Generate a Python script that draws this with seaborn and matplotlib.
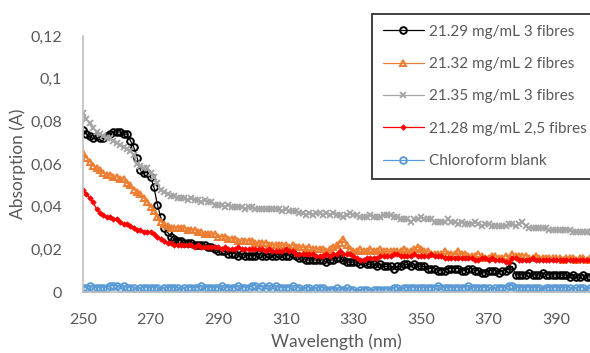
import pandas as pd
import seaborn as sns
import matplotlib.pyplot as plt
from matplotlib.ticker import FuncFormatter

# wavelength axis (nm), 1 nm steps
wavelength = list(range(250, 401))

# absorption values
fib_2129_3 = [
    0.076, 0.074, 0.073, 0.072, 0.073, 0.072, 0.072, 0.073, 0.074, 0.075,
    0.075, 0.075, 0.074, 0.074, 0.071, 0.068, 0.063, 0.057, 0.056, 0.056,
    0.054, 0.049, 0.041, 0.035, 0.030, 0.028, 0.026, 0.025, 0.024, 0.024,
    0.023, 0.023, 0.023, 0.022, 0.022, 0.022, 0.022, 0.021, 0.021, 0.020,
    0.019, 0.019, 0.019, 0.018, 0.018, 0.018, 0.017, 0.018, 0.017, 0.017,
    0.017, 0.017, 0.018, 0.017, 0.017, 0.018, 0.017, 0.017, 0.018, 0.017,
    0.017, 0.017, 0.018, 0.017, 0.016, 0.016, 0.015, 0.015, 0.015, 0.015,
    0.015, 0.015, 0.014, 0.015, 0.015, 0.016, 0.016, 0.015, 0.014, 0.014,
    0.014, 0.014, 0.013, 0.014, 0.013, 0.013, 0.013, 0.012, 0.013, 0.012,
    0.012, 0.012, 0.011, 0.012, 0.012, 0.013, 0.013, 0.012, 0.013, 0.012,
    0.012, 0.012, 0.011, 0.011, 0.011, 0.010, 0.010, 0.010, 0.011, 0.011,
    0.011, 0.011, 0.010, 0.010, 0.011, 0.011, 0.010, 0.010, 0.009, 0.009,
    0.010, 0.010, 0.010, 0.009, 0.010, 0.010, 0.011, 0.012, 0.008, 0.008,
    0.008, 0.008, 0.009, 0.008, 0.008, 0.008, 0.009, 0.008, 0.008, 0.008,
    0.008, 0.008, 0.008, 0.008, 0.007, 0.008, 0.007, 0.007, 0.008, 0.007,
    0.007,
]
fib_2132_2 = [
    0.065, 0.063, 0.061, 0.059, 0.058, 0.057, 0.056, 0.055, 0.055, 0.054,
    0.054, 0.053, 0.053, 0.051, 0.050, 0.048, 0.047, 0.046, 0.044, 0.042,
    0.040, 0.038, 0.035, 0.033, 0.032, 0.031, 0.030, 0.030, 0.030, 0.030,
    0.030, 0.029, 0.029, 0.029, 0.028, 0.028, 0.027, 0.027, 0.027, 0.027,
    0.026, 0.026, 0.026, 0.025, 0.025, 0.025, 0.024, 0.024, 0.024, 0.024,
    0.024, 0.023, 0.023, 0.023, 0.023, 0.022, 0.022, 0.022, 0.022, 0.022,
    0.022, 0.021, 0.022, 0.021, 0.021, 0.021, 0.020, 0.021, 0.020, 0.020,
    0.020, 0.020, 0.019, 0.020, 0.021, 0.022, 0.023, 0.025, 0.022, 0.020,
    0.019, 0.019, 0.020, 0.019, 0.019, 0.020, 0.019, 0.019, 0.020, 0.019,
    0.019, 0.019, 0.019, 0.019, 0.019, 0.020, 0.019, 0.019, 0.020, 0.021,
    0.020, 0.019, 0.019, 0.018, 0.018, 0.018, 0.018, 0.019, 0.018, 0.018,
    0.018, 0.019, 0.018, 0.018, 0.017, 0.017, 0.017, 0.018, 0.017, 0.016,
    0.016, 0.017, 0.017, 0.016, 0.016, 0.017, 0.016, 0.018, 0.017, 0.017,
    0.017, 0.017, 0.016, 0.016, 0.017, 0.016, 0.016, 0.016, 0.016, 0.016,
    0.016, 0.016, 0.015, 0.016, 0.016, 0.016, 0.015, 0.016, 0.016, 0.015,
    0.016,
]
fib_2135_3 = [
    0.084, 0.081, 0.079, 0.077, 0.075, 0.074, 0.073, 0.072, 0.072, 0.071,
    0.070, 0.069, 0.068, 0.067, 0.066, 0.064, 0.060, 0.059, 0.058, 0.058,
    0.056, 0.054, 0.051, 0.048, 0.047, 0.046, 0.045, 0.045, 0.044, 0.044,
    0.044, 0.043, 0.044, 0.043, 0.043, 0.042, 0.043, 0.042, 0.042, 0.041,
    0.041, 0.041, 0.040, 0.041, 0.040, 0.040, 0.040, 0.040, 0.039, 0.040,
    0.040, 0.039, 0.039, 0.039, 0.039, 0.039, 0.039, 0.039, 0.039, 0.038,
    0.039, 0.038, 0.038, 0.038, 0.037, 0.037, 0.036, 0.037, 0.036, 0.037,
    0.037, 0.036, 0.037, 0.036, 0.037, 0.036, 0.036, 0.035, 0.036, 0.037,
    0.036, 0.036, 0.035, 0.035, 0.035, 0.036, 0.035, 0.035, 0.035, 0.036,
    0.036, 0.036, 0.035, 0.035, 0.034, 0.034, 0.034, 0.033, 0.034, 0.034,
    0.035, 0.034, 0.034, 0.034, 0.033, 0.033, 0.033, 0.033, 0.034, 0.033,
    0.033, 0.032, 0.033, 0.032, 0.032, 0.032, 0.033, 0.032, 0.031, 0.032,
    0.032, 0.031, 0.031, 0.031, 0.031, 0.031, 0.032, 0.032, 0.031, 0.032,
    0.033, 0.031, 0.030, 0.030, 0.030, 0.030, 0.030, 0.030, 0.029, 0.029,
    0.029, 0.029, 0.029, 0.029, 0.029, 0.028, 0.028, 0.028, 0.028, 0.028,
    0.028,
]
fib_2128_25 = [
    0.048, 0.046, 0.044, 0.042, 0.039, 0.037, 0.036, 0.035, 0.035, 0.034,
    0.034, 0.033, 0.032, 0.032, 0.031, 0.030, 0.029, 0.029, 0.028, 0.028,
    0.028, 0.027, 0.026, 0.025, 0.024, 0.023, 0.023, 0.022, 0.022, 0.022,
    0.022, 0.022, 0.022, 0.021, 0.022, 0.021, 0.021, 0.021, 0.021, 0.021,
    0.021, 0.020, 0.021, 0.020, 0.020, 0.020, 0.021, 0.020, 0.020, 0.020,
    0.020, 0.020, 0.020, 0.020, 0.019, 0.020, 0.019, 0.019, 0.019, 0.019,
    0.020, 0.019, 0.019, 0.018, 0.018, 0.018, 0.018, 0.018, 0.018, 0.017,
    0.017, 0.017, 0.018, 0.017, 0.018, 0.018, 0.019, 0.018, 0.018, 0.018,
    0.017, 0.016, 0.015, 0.015, 0.016, 0.016, 0.016, 0.016, 0.017, 0.017,
    0.017, 0.017, 0.018, 0.018, 0.017, 0.017, 0.017, 0.017, 0.018, 0.017,
    0.017, 0.017, 0.017, 0.018, 0.017, 0.017, 0.017, 0.016, 0.016, 0.016,
    0.016, 0.016, 0.016, 0.016, 0.016, 0.016, 0.015, 0.015, 0.016, 0.016,
    0.015, 0.016, 0.015, 0.015, 0.015, 0.014, 0.014, 0.016, 0.016, 0.015,
    0.015, 0.015, 0.015, 0.016, 0.015, 0.015, 0.015, 0.015, 0.015, 0.015,
    0.015, 0.015, 0.015, 0.015, 0.015, 0.015, 0.015, 0.015, 0.015, 0.015,
    0.015,
]
blank = [
    0.002, 0.002, 0.003, 0.002, 0.002, 0.002, 0.002, 0.002, 0.003, 0.003,
    0.003, 0.002, 0.003, 0.002, 0.002, 0.002, 0.001, 0.002, 0.002, 0.002,
    0.002, 0.002, 0.002, 0.001, 0.002, 0.002, 0.002, 0.002, 0.002, 0.001,
    0.002, 0.002, 0.002, 0.002, 0.002, 0.003, 0.002, 0.002, 0.002, 0.002,
    0.002, 0.003, 0.002, 0.002, 0.002, 0.002, 0.003, 0.002, 0.002, 0.002,
    0.003, 0.003, 0.002, 0.003, 0.002, 0.003, 0.002, 0.003, 0.002, 0.002,
    0.002, 0.002, 0.003, 0.002, 0.002, 0.001, 0.002, 0.002, 0.001, 0.002,
    0.002, 0.002, 0.001, 0.001, 0.001, 0.002, 0.001, 0.001, 0.002, 0.001,
    0.001, 0.000, 0.001, 0.001, 0.001, 0.000, 0.001, 0.001, 0.001, 0.001,
    0.001, 0.001, 0.002, 0.002, 0.001, 0.002, 0.002, 0.002, 0.002, 0.002,
    0.002, 0.002, 0.002, 0.002, 0.002, 0.003, 0.002, 0.002, 0.002, 0.002,
    0.002, 0.002, 0.002, 0.002, 0.003, 0.002, 0.002, 0.002, 0.002, 0.002,
    0.002, 0.001, 0.002, 0.002, 0.002, 0.002, 0.003, 0.003, 0.002, 0.002,
    0.002, 0.002, 0.002, 0.002, 0.002, 0.002, 0.001, 0.002, 0.002, 0.002,
    0.002, 0.002, 0.002, 0.002, 0.002, 0.001, 0.002, 0.002, 0.002, 0.001,
    0.002,
]

labels = ['21.29 mg/mL 3 fibres', '21.32 mg/mL 2 fibres', '21.35 mg/mL 3 fibres',
          '21.28 mg/mL 2,5 fibres', 'Chloroform blank']
colors = ['#000000', '#ED7D31', '#A5A5A5', '#FF0000', '#5B9BD5']

sns.set_style('white')
plt.rcParams['font.family'] = ['Lato', 'DejaVu Sans']

fig = plt.figure(figsize=(5.9, 3.53), dpi=100)
ax = fig.add_axes([83 / 590, 61 / 353, 1 - 83 / 590, 256 / 353])

series = [fib_2129_3, fib_2132_2, fib_2135_3, fib_2128_25, blank]
# marker style per series (Excel look)
mk = [
    dict(marker='o', markersize=4.8, mfc='none', mec='#000000', mew=1.4, lw=0.9),
    dict(marker='^', markersize=4.8, mfc='none', mec='#ED7D31', mew=1.4, lw=0.9),
    dict(marker='x', markersize=4.4, mec='#A5A5A5', mew=1.4, lw=0.9),
    dict(marker='D', markersize=2.8, mfc='#FF0000', mec='#FF0000', mew=0.5, lw=0.9),
    dict(marker='o', markersize=4.8, mfc='none', mec='#5B9BD5', mew=1.4, lw=0.9),
]
for vals, lab, col, m in zip(series, labels, colors, mk):
    d = pd.DataFrame({'wl': wavelength, 'abs': vals})
    sns.lineplot(data=d, x='wl', y='abs', color=col, label=lab, ax=ax, **m)

ax.set_xlim(250, 400)
ax.set_ylim(0, 0.12)
ax.set_xticks(range(250, 400, 20))
ax.set_yticks([0, 0.02, 0.04, 0.06, 0.08, 0.1, 0.12])
ax.yaxis.set_major_formatter(FuncFormatter(lambda v, p: ('%g' % round(v, 3)).replace('.', ',')))
ax.tick_params(axis='x', length=0, labelsize=11.5, colors='#595959', pad=15)
ax.tick_params(axis='y', length=0, labelsize=11.5, colors='#595959', pad=15)
ax.set_xlabel('Wavelength (nm)', fontsize=12.5, color='#595959', labelpad=5)
ax.set_ylabel('Absorption (A)', fontsize=12.5, color='#595959', labelpad=3)
for s in ['top', 'right']:
    ax.spines[s].set_visible(False)
for s in ['left', 'bottom']:
    ax.spines[s].set_color('#BFBFBF')
    ax.spines[s].set_linewidth(1.2)

h, l = ax.get_legend_handles_labels()
ax.get_legend().remove()
leg = fig.legend(h, l, loc='upper left', bbox_to_anchor=(372 / 590, 1 - 14 / 353),
                 fontsize=11, frameon=True, fancybox=False, edgecolor='black',
                 handlelength=2.7, labelspacing=1.2, borderpad=0.7, handletextpad=0.3,
                 borderaxespad=0)
leg.get_frame().set_linewidth(1.3)
for t in leg.get_texts():
    t.set_color('#595959')

fig.savefig('out.png', dpi=100)
